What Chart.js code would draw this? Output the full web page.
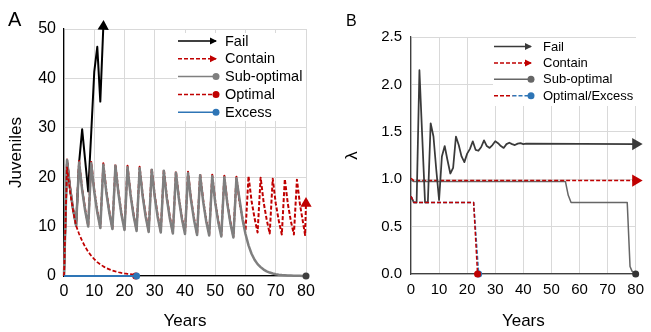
<!DOCTYPE html>
<html>
<head>
<meta charset="utf-8">
<script src="https://cdn.jsdelivr.net/npm/chart.js@4.4.1/dist/chart.umd.min.js"></script>
<style>
  html, body { margin: 0; padding: 0; background: #fff; }
  #wrap { position: relative; width: 651px; height: 332px; overflow: hidden; }
  .panel { position: absolute; top: 0; height: 332px; }
  #boxA { left: 0; width: 325px; }
  #boxB { left: 325px; width: 326px; }
  .tag { position: absolute; font-family: "Liberation Sans", Arial, sans-serif; color: #000; }
  #tagA { left: 8px; top: 9px; font-size: 20px; line-height: 20px; }
  #tagB { left: 346px; top: 13px; font-size: 16px; line-height: 16px; }
</style>
</head>
<body>
<div id="wrap">
  <div class="panel" id="boxA"><canvas id="chartA"></canvas></div>
  <div class="panel" id="boxB"><canvas id="chartB"></canvas></div>
  <div class="tag" id="tagA">A</div>
  <div class="tag" id="tagB">B</div>
</div>
<script>
// ---- data ----
const xTicks = [0, 10, 20, 30, 40, 50, 60, 70, 80];
const yTicksA = [0, 10, 20, 30, 40, 50];
const yTicksB = [0, 0.5, 1, 1.5, 2, 2.5];
const yLabelsB = ["0.0", "0.5", "1.0", "1.5", "2.0", "2.5"];

const legendA = ["Fail", "Contain", "Sub-optimal", "Optimal", "Excess"];
const legendB = ["Fail", "Contain", "Sub-optimal", "Optimal/Excess"];

// panel A: juveniles per year
const yearsA = [0, 1, 2, 3, 4, 5, 6, 7, 8, 9, 10, 11, 12, 13, 14, 15, 16, 17, 18, 19, 20,
  21, 22, 23, 24, 25, 26, 27, 28, 29, 30, 31, 32, 33, 34, 35, 36, 37, 38, 39, 40,
  41, 42, 43, 44, 45, 46, 47, 48, 49, 50, 51, 52, 53, 54, 55, 56, 57, 58, 59, 60,
  61, 62, 63, 64, 65, 66, 67, 68, 69, 70, 71, 72, 73, 74, 75, 76, 77, 78, 79, 80];
const subOptA = [0, 23.5, 17.8, 13.5, 10.2, 23.0, 17.4, 13.2, 10.0, 22.8, 17.1, 12.9, 9.7,
  22.5, 16.9, 12.7, 9.5, 22.3, 16.7, 12.4, 9.3, 22.0, 16.4, 12.2, 9.1, 21.8, 16.2, 12.0, 8.9,
  21.5, 16.0, 11.8, 8.8, 21.3, 15.7, 11.6, 8.6, 20.9, 15.5, 11.5, 8.5, 20.8, 15.3, 11.3, 8.3,
  20.4, 15.1, 11.1, 8.2, 20.2, 14.8, 10.9, 8.0, 20.0, 14.6, 10.7, 7.8,
  19.8, 15.6, 11.5, 8.5, 6.2, 4.5, 3.3, 2.4, 1.8, 1.3, 0.95, 0.7, 0.5, 0.37, 0.27, 0.2,
  0.15, 0.11, 0.08, 0.06, 0.04, 0.03, 0.02, 0];
// contain: last trough just before 80, then the final rise ends at 80
const containYearsA = yearsA.slice(0, 80).concat([79.7, 80]);
const containA = [0, 23.6, 18.1, 13.8, 10.4, 23.3, 17.7, 13.5, 10.2, 23.1, 17.4, 13.2, 9.9,
  22.8, 17.2, 13.0, 9.7, 22.6, 17.0, 12.7, 9.5, 22.3, 16.7, 12.5, 9.3, 22.1, 16.5, 12.3, 9.1,
  21.8, 16.3, 12.1, 9.0, 21.6, 16.0, 11.9, 8.8, 21.2, 15.8, 11.8, 8.7, 21.1, 15.6, 11.6, 8.5,
  20.7, 15.4, 11.4, 8.4, 20.5, 15.1, 11.2, 8.2, 20.3, 14.9, 11.0, 8.0,
  20.1, 15.0, 11.7, 9.1, 20.2, 15.2, 11.7, 8.8, 19.9, 14.9, 11.4, 8.6, 19.7, 14.7, 11.2, 8.4,
  19.6, 14.6, 11.1, 8.4, 19.5, 14.5, 10.9, 8.3, 14.7];
const failYearsA = [0, 1, 2, 3, 4, 5, 6, 7, 8, 9, 10, 11, 12, 13];
const failA = [0, 23.5, 17.8, 13.5, 10.2, 23.0, 29.7, 23.4, 17.1, 29.0, 41.3, 46.4, 35.3, 50.5];
const optYearsA = [0, 1, 2, 3, 4, 5, 6, 7, 8, 9, 10, 11, 12, 13, 14, 15, 16, 17, 18, 19, 20,
  21, 22, 23, 23.7];
const optA = [0, 22.0, 17.1, 13.2, 10.2, 8.5, 7.1, 5.9, 4.9, 4.1, 3.4, 2.8, 2.35, 1.95, 1.6,
  1.35, 1.1, 0.92, 0.76, 0.63, 0.52, 0.43, 0.36, 0.3, 0];
const excessYearsA = [0, 24];
const excessA = [0, 0];

// panel B: lambda
const failYearsB = [0, 1, 2, 3, 4, 5, 6, 7, 8, 9, 10, 11, 12, 13, 14, 15, 16, 17, 18, 19, 20,
  21, 22, 23, 24, 25, 26, 27, 28, 29, 30, 31, 32, 33, 34, 35, 36, 37, 38, 39, 40, 41, 80];
const failB = [0.82, 0.755, 0.755, 2.15, 1.45, 0.755, 0.755, 1.59, 1.45, 1.1, 0.78, 1.24, 1.35,
  1.2, 1.06, 1.12, 1.45, 1.36, 1.24, 1.18, 1.27, 1.32, 1.40, 1.31, 1.30, 1.34, 1.41, 1.35, 1.33,
  1.36, 1.40, 1.38, 1.35, 1.33, 1.37, 1.385, 1.37, 1.36, 1.375, 1.38, 1.37, 1.375, 1.37];
const containYearsB = [0, 1, 80];
const containB = [1.01, 0.985, 0.985];
const subOptYearsB = [0, 1, 55, 56, 57, 77, 78, 78.7, 80];
const subOptB = [0.99, 0.975, 0.975, 0.83, 0.755, 0.755, 0.08, 0.03, 0];
const optYearsB = [0, 1, 22.3, 23.7];
const optB = [0.82, 0.755, 0.755, 0];
const excessYearsB = [0, 1, 22.3, 24.1];
const excessB = [0.82, 0.755, 0.755, 0];

// ---- styling ----
const fontFamily = '"Liberation Sans", Arial, Helvetica, sans-serif';
Chart.defaults.font.family = fontFamily;
Chart.defaults.color = "#000";

const RED = "#c00000";
const BLUE = "#2e75b6";

const series = (label, xs, ys, st) => ({
  label,
  data: xs.map((x, i) => ({ x, y: ys[i] })),
  borderColor: st.color,
  backgroundColor: st.color,
  borderWidth: st.width,
  borderDash: st.dash || [],
  borderJoinStyle: "round",
  pointStyle: st.marker === "arrow" ? "triangle" : "circle",
  pointRotation: st.rot || 0,
  pointRadius: (c) => (st.marker && c.dataIndex === xs.length - 1 ? st.size : 0),
  pointBorderWidth: 0,
  pointBackgroundColor: st.markerColor || st.color,
  order: st.order,
  clip: false,
  tension: 0,
});

//legend drawn inside the plot, with excel-like line samples
const endLegend = {
  id: "endLegend",
  afterDraw(chart, args, o) {
    const ctx = chart.ctx;
    ctx.save();
    ctx.fillStyle = "#fff";
    ctx.fillRect(o.box[0], o.box[1], o.box[2], o.box[3]);
    o.items.forEach((it, i) => {
      const y = o.y + i * o.step;
      const x0 = o.x0, x1 = o.x1;
      ctx.lineWidth = it.width;
      ctx.setLineDash(it.dash || []);
      if (it.color2) {
        const xm = (x0 + x1) / 2;
        ctx.strokeStyle = it.color;
        ctx.beginPath(); ctx.moveTo(x0, y); ctx.lineTo(xm, y); ctx.stroke();
        ctx.strokeStyle = it.color2;
        ctx.beginPath(); ctx.moveTo(xm, y); ctx.lineTo(x1, y); ctx.stroke();
      } else {
        ctx.strokeStyle = it.color;
        ctx.beginPath(); ctx.moveTo(x0, y); ctx.lineTo(x1, y); ctx.stroke();
      }
      ctx.setLineDash([]);
      ctx.fillStyle = it.color2 || it.color;
      if (it.marker === "arrow") {
        ctx.beginPath();
        ctx.moveTo(x1 + 1, y);
        ctx.lineTo(x1 - 6, y - 3.5);
        ctx.lineTo(x1 - 6, y + 3.5);
        ctx.closePath();
        ctx.fill();
      } else if (it.marker === "dot") {
        ctx.beginPath();
        ctx.arc(x1, y, 3.5, 0, Math.PI * 2);
        ctx.fill();
      }
      ctx.fillStyle = "#000";
      ctx.font = o.fontSize + "px " + fontFamily;
      ctx.textBaseline = "middle";
      ctx.textAlign = "left";
      ctx.fillText(o.labels[i], o.tx, y + 0.5);
    });
    ctx.restore();
  },
};

const axisX = (height, pad, size) => ({
  type: "linear",
  min: 0,
  max: 80,
  afterBuildTicks: (s) => { s.ticks = xTicks.map((v) => ({ value: v })); },
  ticks: { font: { size }, color: "#000", padding: pad, maxRotation: 0, autoSkip: false },
  grid: { color: "#d9d9d9", drawTicks: false },
  title: { display: true, text: "Years", font: { size: 17 }, color: "#000", padding: { top: 0, bottom: 0 } },
  afterFit: (s) => { s.height = height; },
});

// ---- chart A ----
const dataA = [
  series(legendA[0], failYearsA, failA, { color: "#000", width: 2, marker: "arrow", size: 6.5, rot: 2, order: 4 }),
  series(legendA[1], containYearsA, containA, { color: RED, width: 2, dash: [4, 2], marker: "arrow", size: 6.5, order: 3 }),
  series(legendA[2], yearsA, subOptA, { color: "#7f7f7f", width: 2.5, marker: "dot", size: 3.5, markerColor: "#404040", order: 2 }),
  series(legendA[3], optYearsA, optA, { color: RED, width: 1.75, dash: [4, 2], marker: "dot", size: 3.5, order: 1 }),
  series(legendA[4], excessYearsA, excessA, { color: BLUE, width: 2, marker: "dot", size: 3.5, order: 0 }),
];

const xA = axisX(56, 6, 16);
xA.border = { color: "#000", width: 1.25 };

new Chart(document.getElementById("chartA"), {
  type: "line",
  data: { datasets: dataA },
  options: {
    responsive: true,
    maintainAspectRatio: false,
    animation: false,
    events: [],
    layout: { padding: { left: 0, top: 29, right: 19, bottom: 0 } },
    scales: {
      x: xA,
      y: {
        min: 0,
        max: 50,
        afterBuildTicks: (s) => { s.ticks = yTicksA.map((v) => ({ value: v })); },
        ticks: { font: { size: 16 }, color: "#000", padding: 8 },
        grid: { color: "#d9d9d9", drawTicks: false },
        border: { color: "#000", width: 1.25 },
        title: { display: true, text: "Juveniles", font: { size: 17 }, color: "#000", padding: { top: 6, bottom: 0 } },
        afterFit: (s) => { s.width = 64; },
      },
    },
    plugins: {
      legend: { display: false },
      tooltip: { enabled: false },
      endLegend: {
        box: [177, 33, 129, 88],
        x0: 178, x1: 216, tx: 225, y: 41, step: 17.8, fontSize: 14.5,
        labels: legendA,
        items: [
          { color: "#000", width: 1.5, marker: "arrow" },
          { color: RED, width: 1.5, dash: [4, 2], marker: "arrow" },
          { color: "#7f7f7f", width: 1.5, marker: "dot" },
          { color: RED, width: 1.5, dash: [4, 2], marker: "dot" },
          { color: BLUE, width: 1.5, marker: "dot" },
        ],
      },
    },
  },
  plugins: [endLegend],
});

// ---- chart B ----
const dataB = [
  series("Fail", failYearsB, failB, { color: "#3a3a3a", width: 1.75, marker: "arrow", size: 7, rot: 90, order: 2 }),
  series("Contain", containYearsB, containB, { color: RED, width: 1.5, dash: [4, 2], marker: "arrow", size: 7, rot: 90, order: 3 }),
  series("Sub-optimal", subOptYearsB, subOptB, { color: "#666", width: 1.5, marker: "dot", size: 3.5, markerColor: "#333", order: 4 }),
  series("Optimal", optYearsB, optB, { color: RED, width: 1.5, dash: [4, 2], marker: "dot", size: 3.5, order: 0 }),
  series("Excess", excessYearsB, excessB, { color: BLUE, width: 1.5, dash: [4, 2], marker: "dot", size: 3.5, order: 1 }),
];

const xB = axisX(58, 7, 15);
xB.border = { color: "#404040", width: 1.25 };

new Chart(document.getElementById("chartB"), {
  type: "line",
  data: { datasets: dataB },
  options: {
    responsive: true,
    maintainAspectRatio: false,
    animation: false,
    events: [],
    layout: { padding: { left: 0, top: 37, right: 9, bottom: 0 } },
    scales: {
      x: xB,
      y: {
        min: 0,
        max: 2.5,
        afterBuildTicks: (s) => { s.ticks = yTicksB.map((v) => ({ value: v })); },
        ticks: { font: { size: 15 }, color: "#000", padding: 9, callback: (v, i) => yLabelsB[i] },
        grid: { color: "#d9d9d9", drawTicks: false },
        border: { color: "#404040", width: 1.25 },
        title: { display: true, text: "λ", font: { size: 17 }, color: "#000", padding: { top: 17, bottom: 0 } },
        afterFit: (s) => { s.width = 86; },
      },
    },
    plugins: {
      legend: { display: false },
      tooltip: { enabled: false },
      endLegend: {
        box: [168, 38, 145, 68],
        x0: 169, x1: 206, tx: 218, y: 46.5, step: 16.4, fontSize: 13,
        labels: legendB,
        items: [
          { color: "#3a3a3a", width: 1.5, marker: "arrow" },
          { color: RED, width: 1.5, dash: [4, 2], marker: "arrow" },
          { color: "#666", width: 1.5, marker: "dot" },
          { color: RED, color2: BLUE, width: 1.5, dash: [4, 2], marker: "dot" },
        ],
      },
    },
  },
  plugins: [endLegend],
});
</script>
</body>
</html>
